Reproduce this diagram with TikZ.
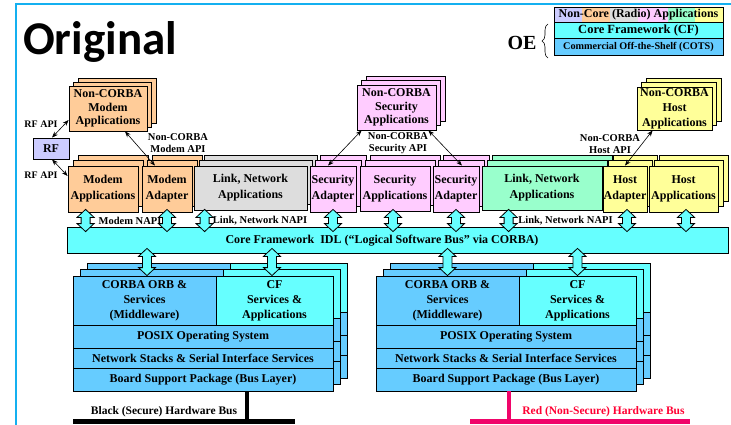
\documentclass[tikz,border=0pt]{standalone}
\usepackage{fontspec}
\setmainfont{Liberation Serif}
\newfontfamily\titlefont{Carlito}
\usetikzlibrary{arrows.meta,calc,decorations.pathreplacing}
\definecolor{framebl}{RGB}{20,176,240}
\definecolor{lav}{HTML}{CCCCFF}
\definecolor{orng}{HTML}{FFCC99}
\definecolor{gry}{HTML}{DDDDDD}
\definecolor{pnk}{HTML}{FFCCFF}
\definecolor{mint}{HTML}{99FFCC}
\definecolor{yel}{HTML}{FFFF99}
\definecolor{cfcyan}{HTML}{66FFFF}
\definecolor{cotsblue}{HTML}{66CCFF}
\definecolor{redbus}{HTML}{F0056A}
\definecolor{redtxt}{HTML}{FF0033}

% stacked card group: name, cx, cy, w, h, colour, dx, dy, text
\newcommand\cardgrp[9]{%
  \foreach \k in {2,1}{\node[cardbg, fill=#6, minimum width=#4pt, minimum height=#5pt] at ({#2+\k*#7},{#3-\k*#8}) {};}
  \node[card, fill=#6, minimum width=#4pt, minimum height=#5pt] (#1) at (#2,#3) {#9};
}
% block double arrow: top point, bottom point, top overshoot, bottom overshoot
\newcommand\barrow[4]{%
  \draw[ln, fill=cfcyan] let \p1=#1, \p2=#2 in
  (\x1,\y1+#3) -- (\x1+8.5pt,\y1+#3-8pt) -- (\x1+4.5pt,\y1+#3-8pt) -- (\x1+4.5pt,\y2-#4+8pt)
  -- (\x1+8.5pt,\y2-#4+8pt) -- (\x1,\y2-#4) -- (\x1-8.5pt,\y2-#4+8pt) -- (\x1-4.5pt,\y2-#4+8pt)
  -- (\x1-4.5pt,\y1+#3-8pt) -- (\x1-8.5pt,\y1+#3-8pt) -- cycle;}
% operating environment stack: suffix, x0, y0
\newcommand\osstack[3]{%
  \foreach \k in {2,1}{%
    \begin{scope}[shift={({7*\k},{-6.5*\k})}]
      \draw[ln, fill=cotsblue] (#2,#3) rectangle ++(143,49);
      \draw[ln, fill=cfcyan] ({#2+143},#3) rectangle ++(117,49);
      \draw[ln, fill=cotsblue] (#2,{#3+49}) rectangle ++(260,23);
      \draw[ln, fill=cotsblue] (#2,{#3+72}) rectangle ++(260,20);
      \draw[ln, fill=cotsblue] (#2,{#3+92}) rectangle ++(260,23);
    \end{scope}}
  \node[osbox, fill=cotsblue, minimum width=143pt, minimum height=49pt] (corba#1) at ({#2+71.5},{#3+24.5}) {CORBA ORB \&\\Services\\(Middleware)};
  \node[osbox, fill=cfcyan, minimum width=117pt, minimum height=49pt] (cf#1) at ({#2+201.5},{#3+24.5}) {CF\\Services \&\\Applications};
  \node[osbox, fill=cotsblue, minimum width=260pt, minimum height=23pt] (posix#1) at ({#2+130},{#3+60.5}) {POSIX Operating System};
  \node[osbox, fill=cotsblue, minimum width=260pt, minimum height=20pt] (net#1) at ({#2+130},{#3+82}) {Network Stacks \& Serial Interface Services};
  \node[osbox, fill=cotsblue, minimum width=260pt, minimum height=23pt] (bsp#1) at ({#2+130},{#3+103.5}) {Board Support Package (Bus Layer)};
}

\begin{document}
\begin{tikzpicture}[x=1pt,y=-1pt,
  ln/.style={draw=black, line width=0.8pt},
  card/.style={ln, inner sep=0pt, align=center, font=\bfseries\fontsize{12}{16}\selectfont},
  cardbg/.style={ln, inner sep=0pt},
  osbox/.style={ln, inner sep=0pt, align=center, font=\bfseries\fontsize{12}{15}\selectfont},
  lbl/.style={inner sep=0pt, align=center, font=\bfseries\fontsize{10.5}{12}\selectfont},
  thinarr/.style={line width=0.6pt, {Stealth[length=6pt,width=4.5pt]}-{Stealth[length=6pt,width=4.5pt]}},
]
\useasboundingbox (0,0) rectangle (731,425);
\fill[white] (0,0) rectangle (731,425);
\draw[framebl, line width=2pt] (16,426) -- (16,4) -- (732,4);

% title
\node[anchor=base west, inner sep=0pt, font=\titlefont\bfseries\fontsize{47}{47}\selectfont] (title) at (23,55) {Original};

% legend
\fill[lav] (554,7) rectangle (582,22);
\fill[orng] (582,7) rectangle (610,22);
\fill[gry] (610,7) rectangle (638,22);
\fill[pnk] (638,7) rectangle (668,22);
\fill[mint] (668,7) rectangle (695,22);
\fill[yel] (695,7) rectangle (723,22);
\node[ln, inner sep=0pt, minimum width=169pt, minimum height=15pt, font=\bfseries\fontsize{12}{12}\selectfont] (leg1) at (638.5,14.5) {Non-Core (Radio) Applications};
\node[ln, fill=cfcyan, inner sep=0pt, minimum width=169pt, minimum height=16pt, font=\bfseries\fontsize{12.5}{12}\selectfont] (leg2) at (638.5,30) {Core Framework (CF)};
\node[ln, fill=cotsblue, inner sep=0pt, minimum width=169pt, minimum height=17pt, font=\bfseries\fontsize{10.2}{12}\selectfont] (leg3) at (638.5,46.5) {Commercial Off-the-Shelf (COTS)};
\node[inner sep=0pt, font=\bfseries\fontsize{20}{20}\selectfont] (oe) at (522,43) {OE};
\draw[decorate, decoration={brace, amplitude=6pt}, line width=0.6pt] (548,58) -- (548,24);

% top non-CORBA groups
\cardgrp{ncm}{108}{108.5}{78}{45}{orng}{4.5}{4}{Non-CORBA\\[-2.5pt]Modem\\[-2.5pt]Applications}
\cardgrp{ncs}{396.5}{107.5}{79}{45}{pnk}{4.5}{4.5}{Non-CORBA\\[-2.5pt]Security\\[-2.5pt]Applications}
\cardgrp{nch}{674.5}{108.5}{75}{43}{yel}{4.5}{4.5}{Non-CORBA\\[-1pt]Host\\[-1pt]Applications}

% RF
\node[ln, fill=lav, inner sep=0pt, minimum width=36pt, minimum height=21pt, font=\bfseries\fontsize{12}{12}\selectfont] (rf) at (51,148.5) {RF};

% application row
\cardgrp{ma}{103}{189}{70}{46}{orng}{5}{5.5}{Modem\\Applications}
\cardgrp{mad}{167}{189}{50}{46}{orng}{5}{5.5}{Modem\\Adapter}
\cardgrp{lnl}{250.5}{188}{113}{44}{gry}{5}{5.5}{Link, Network\\Applications}
\cardgrp{sal}{333}{189}{46}{46}{pnk}{5}{5.5}{Security\\Adapter}
\cardgrp{sapp}{395}{188.5}{70}{45}{pnk}{5}{5.5}{Security\\Applications}
\cardgrp{sar}{456}{189}{46}{46}{pnk}{5}{5.5}{Security\\Adapter}
\cardgrp{lnr}{542}{188}{120}{44}{mint}{5}{5.5}{Link, Network\\Applications}
\cardgrp{ha}{625}{189}{44}{46}{yel}{5}{5.5}{Host\\Adapter}
\cardgrp{happ}{683.5}{189}{69}{46}{yel}{5}{5.5}{Host\\Applications}

% core framework bus
\node[ln, fill=cfcyan, inner sep=0pt, minimum width=661pt, minimum height=26pt] (bus) at (397.5,240) {};
\node[inner sep=0pt, font=\bfseries\fontsize{12}{12}\selectfont] (bustxt) at (382,240.5) {Core Framework~ IDL (“Logical Software Bus” via CORBA)};

% operating environment stacks
\osstack{1}{73}{276}
\osstack{2}{376}{276}

% block arrows: applications <-> bus
\barrow{([xshift=18pt]ma.south west)}{(bus.north)}{3pt}{5pt}
\barrow{(mad.south)}{(bus.north)}{3pt}{5pt}
\barrow{([xshift=11pt]lnl.south west)}{(bus.north)}{1pt}{5pt}
\barrow{(sal.south)}{(bus.north)}{3pt}{5pt}
\barrow{([xshift=-2pt]sapp.south)}{(bus.north)}{2pt}{5pt}
\barrow{(sar.south)}{(bus.north)}{3pt}{5pt}
\barrow{([xshift=27pt]lnr.south west)}{(bus.north)}{1pt}{5pt}
\barrow{([xshift=2pt]ha.south)}{(bus.north)}{3pt}{5pt}
\barrow{([xshift=2.5pt]happ.south)}{(bus.north)}{3pt}{5pt}
% block arrows: bus <-> stacks
\barrow{([xshift=2.5pt]corba1.north |- bus.south)}{(corba1.north)}{5pt}{0pt}
\barrow{([xshift=-2.5pt]cf1.north |- bus.south)}{(cf1.north)}{5pt}{0pt}
\barrow{(corba2.north |- bus.south)}{(corba2.north)}{5pt}{0pt}
\barrow{(cf2.north |- bus.south)}{(cf2.north)}{5pt}{0pt}

% thin API arrows
\draw[thinarr] ([xshift=1pt]rf.north) -- ([yshift=-11.5pt]ncm.west);
\draw[thinarr] ([xshift=1pt]rf.south) -- ([yshift=13pt]ma.west);
\draw[thinarr] ([xshift=17pt]ncm.south) -- ([xshift=-12pt]mad.north);
\draw[thinarr] ([xshift=5pt]ncs.south west) -- ([xshift=-5pt]sal.north);
\draw[thinarr] ([xshift=-8pt]ncs.south east) -- ([xshift=6pt]sar.north);
\draw[thinarr] ([xshift=16pt]nch.south west) -- (ha.north);

% labels
\node[lbl, font=\bfseries\fontsize{10}{12}\selectfont] (rfapi1) at (41,124.5) {RF API};
\node[lbl, font=\bfseries\fontsize{10}{12}\selectfont] (rfapi2) at (41,175.5) {RF API};
\node[lbl] (mapi) at (178,143.5) {Non-CORBA\\Modem API};
\node[lbl] (sapi) at (398,143.5) {Non-CORBA\\Security API};
\node[lbl] (hapi) at (610,144) {Non-CORBA\\Host API};
\node[lbl] (mnapi) at (130,221) {Modem NAPI};
\node[lbl] (lnapi1) at (260,221) {Link, Network NAPI};
\node[lbl] (lnapi2) at (565.5,221) {Link, Network NAPI};

% hardware buses
\coordinate (bbL) at (73,421.5);
\coordinate (bbR) at (295,421.5);
\coordinate (bbJ) at (247,421.5);
\draw[line width=5pt] (bbL) -- (bbR);
\draw[line width=4pt] (bsp1.south -| bbJ) -- (bbJ);
\node[lbl, font=\bfseries\fontsize{11.5}{12}\selectfont] (blbl) at (164,412) {Black (Secure) Hardware Bus};
\coordinate (rbL) at (470,421.5);
\coordinate (rbR) at (690,421.5);
\coordinate (rbJ) at (509,421.5);
\draw[redbus, line width=5pt] (rbL) -- (rbR);
\draw[redbus, line width=4pt] (bsp2.south -| rbJ) -- (rbJ);
\node[lbl, text=redtxt, font=\bfseries\fontsize{11.5}{12}\selectfont] (rlbl) at (603.5,412) {Red (Non-Secure) Hardware Bus};
\end{tikzpicture}
\end{document}
